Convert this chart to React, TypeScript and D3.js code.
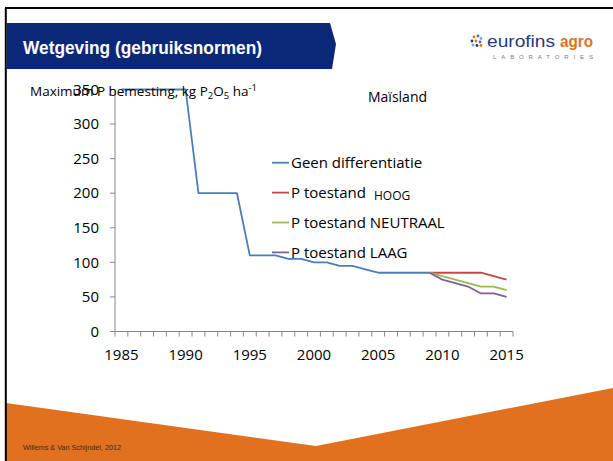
import React from "react";
import * as d3 from "d3";

const years: number[] = d3.range(1985, 2016);
const seriesNames = ["Geen differentiatie", "P toestand", "P toestand NEUTRAAL", "P toestand LAAG"];
const seriesColors = ["#4A7EBB", "#BE4B48", "#98B954", "#7D60A0"];

// Geen differentiatie 1985–2009
const geenYears = d3.range(1985, 2010);
const geenValues = [350, 350, 350, 350, 350, 350, 200, 200, 200, 200, 110, 110, 110, 105, 105, 100, 100, 95, 95, 90, 85, 85, 85, 85, 85];
// P toestand HOOG / NEUTRAAL / LAAG 2009–2015
const diffYears = d3.range(2009, 2016);
const hoogValues = [85, 85, 85, 85, 85, 80, 75];
const neutraalValues = [85, 80, 75, 70, 65, 65, 60];
const laagValues = [85, 75, 70, 65, 55, 55, 50];

const yTicks = [0, 50, 100, 150, 200, 250, 300, 350];
const xLabelYears = [1985, 1990, 1995, 2000, 2005, 2010, 2015];

const FONT = "'Open Sans', 'Noto Sans', sans-serif";

export default function App() {
  const W = 613, H = 461;
  const x = d3.scaleBand<number>().domain(years).range([115, 513]).padding(0);
  const y = d3.scaleLinear().domain([0, 350]).range([331.5, 89.5]);
  const cx = (yr: number) => (x(yr) as number) + x.bandwidth() / 2;

  const line = d3
    .line<[number, number]>()
    .x((d) => cx(d[0]))
    .y((d) => y(d[1]));

  const series: [number, number][][] = [
    geenYears.map((yr, i) => [yr, geenValues[i]]),
    diffYears.map((yr, i) => [yr, hoogValues[i]]),
    diffYears.map((yr, i) => [yr, neutraalValues[i]]),
    diffYears.map((yr, i) => [yr, laagValues[i]]),
  ];

  const tickEdges = years.map((yr) => x(yr) as number).concat([x.range()[1]]);
  const axisColor = "#868686";
  const legendY0 = 162.7;
  const legendStep = 29.9;

  return (
    <svg
      width={W}
      height={H}
      style={{ position: "absolute", left: 0, top: 0, display: "block" }}
      fontFamily={FONT}
    >
      <rect x={0} y={0} width={W} height={H} fill="#ffffff" />
      {/* footer orange shape */}
      <polygon points={`6,403 316,446 613,388 613,461 6,461`} fill="#E2711F" />
      <text x={23} y={450} fontFamily="'Liberation Sans', Arial, sans-serif" fontSize={7.5} fill="#3a2a1a" textLength={98} lengthAdjust="spacingAndGlyphs">
        Willems &amp; Van Schijndel, 2012
      </text>

      {/* frame */}
      <line x1={5.8} y1={8} x2={5.8} y2={H} stroke="#000" strokeWidth={2} />
      <line x1={5} y1={8} x2={W} y2={8} stroke="#000" strokeWidth={2} />

      {/* title banner */}
      <polygon points="7,23 330,23 336,44 332,69 7,69" fill="#0B2878" />
      <text x={23} y={54} fill="#ffffff" fontFamily="'Liberation Sans', Arial, sans-serif" fontWeight="bold" fontSize={18.5} textLength={239} lengthAdjust="spacingAndGlyphs">
        Wetgeving (gebruiksnormen)
      </text>

      {/* logo */}
      <g>
        {[
          [474, 37, "#E2711F"], [478, 36, "#3E6DB5"], [481, 38.5, "#7FA7D9"],
          [472, 41, "#1F3A7A"], [476, 41, "#E2711F"], [480, 42, "#3E6DB5"],
          [473, 45, "#7FA7D9"], [477, 45.5, "#1F3A7A"], [481, 45.5, "#E2711F"],
        ].map((d, i) => (
          <circle key={i} cx={d[0] as number} cy={d[1] as number} r={1.4} fill={d[2] as string} />
        ))}
        <text x={487} y={47} fontFamily="'Liberation Sans', Arial, sans-serif" fontSize={16} fill="#1F3A7A" textLength={68} lengthAdjust="spacingAndGlyphs">
          eurofins
        </text>
        <text x={560} y={47} fontFamily="'Liberation Sans', Arial, sans-serif" fontWeight="bold" fontSize={16} fill="#E2711F" textLength={33} lengthAdjust="spacingAndGlyphs">
          agro
        </text>
        <text x={493} y={59} fontFamily="'Liberation Sans', Arial, sans-serif" fontSize={6} fill="#7a7a7a" textLength={100} lengthAdjust="spacing">
          LABORATORIES
        </text>
      </g>

      {/* axes */}
      <line x1={115} y1={y(0)} x2={x.range()[1]} y2={y(0)} stroke={axisColor} strokeWidth={1} />
      <line x1={115} y1={y(0)} x2={115} y2={y(350)} stroke={axisColor} strokeWidth={1} />
      {tickEdges.map((tx, i) => (
        <line key={"xt" + i} x1={tx} y1={y(0)} x2={tx} y2={y(0) + 5} stroke={axisColor} strokeWidth={1} />
      ))}
      {yTicks.map((t) => (
        <g key={"yt" + t}>
          <line x1={110} y1={y(t)} x2={115} y2={y(t)} stroke={axisColor} strokeWidth={1} />
          <text x={99} y={y(t)} dy="0.35em" textAnchor="end" fontSize={15} fill="#000">
            {t}
          </text>
        </g>
      ))}
      {xLabelYears.map((yr) => (
        <text key={"xl" + yr} x={cx(yr)} y={360} textAnchor="middle" fontSize={15} fill="#000">
          {yr}
        </text>
      ))}

      {/* series */}
      {series.map((s, i) => (
        <path key={"s" + i} d={line(s) as string} fill="none" stroke={seriesColors[i]} strokeWidth={1.8} strokeLinejoin="round" />
      ))}

      {/* legend */}
      {seriesNames.map((name, i) => (
        <g key={"lg" + i}>
          <line x1={272} y1={legendY0 + i * legendStep} x2={289} y2={legendY0 + i * legendStep} stroke={seriesColors[i]} strokeWidth={1.8} />
          <text x={291} y={legendY0 + i * legendStep} dy="0.35em" fontSize={15} fill="#000">
            {name}
          </text>
        </g>
      ))}
      <text x={374} y={200} fontSize={12} fill="#000">HOOG</text>

      {/* axis title */}
      <text x={30} y={96} fontSize={13.5} fill="#000">
        Maximum P bemesting,  kg P
        <tspan fontSize={9.5} dy={3}>2</tspan>
        <tspan dy={-3}>O</tspan>
        <tspan fontSize={9.5} dy={3}>5</tspan>
        <tspan dy={-3}> ha</tspan>
        <tspan fontSize={9.5} dy={-5}>-1</tspan>
      </text>
      <text x={368} y={102} fontSize={14} fill="#000">Maïsland</text>
    </svg>
  );
}
